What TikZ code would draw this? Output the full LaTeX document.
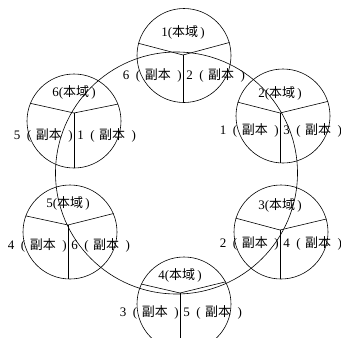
\documentclass[tikz,border=0pt]{standalone}
\usepackage{fontspec}
\setmainfont{Liberation Serif}
\newfontfamily\cjk{Noto Sans CJK SC}
\newcommand\benyu{{\cjk 本域}}
\newcommand\fuben{{\cjk 副本}}
\newcommand\fblabel[1]{#1\hspace{0.5em}(\hspace{0.35em}\fuben\hspace{0.5em})}

\begin{document}
\begin{tikzpicture}[x=1pt, y=-1pt, line width=0.6pt,
	zone/.style={circle, draw, inner sep=0pt, minimum size=94pt},
	tag/.style={inner sep=0pt, font=\fontsize{13}{15}\selectfont}]

	\useasboundingbox (0,0) rectangle (341,338);
	\clip (0,0) rectangle (341,338);

	% ring through the six sites
	\node[circle, draw, inner sep=0pt, minimum size=242pt] (ring) at (176.5,173) {};

	% site / centre / meeting point / angles of the Y / prev / next / text rows
	\foreach \i/\cx/\cy/\mx/\my/\al/\ar/\prv/\nxt/\ty/\by in {
		1/184/55.5/183/55/165/16/6/2/32/75,
		2/283/116/280/113/163/18/1/3/93/130,
		3/281/232/280/230/163/16/2/4/205/243,
		4/184/304/180/293/155/28/3/5/275/312,
		5/70/232/68/225/160/23/4/6/203/245,
		6/74/121/74/113/158/21/5/1/92/135}
	{
		\node[zone] (c\i) at (\cx,\cy) {};
		\coordinate (m\i) at (\mx,\my);
		\draw (m\i) -- (c\i.\al);
		\draw (m\i) -- (c\i.\ar);
		\draw (m\i) -- (m\i |- c\i.south);
		\node[tag] (own\i) at (\mx,\ty) {\i(\benyu\,)};
		\node[tag, anchor=east] (left\i) at (\mx-1,\by) {\fblabel{\prv}};
		\node[tag, anchor=west] (right\i) at (\mx+3,\by) {\fblabel{\nxt}};
	}

\end{tikzpicture}
\end{document}
